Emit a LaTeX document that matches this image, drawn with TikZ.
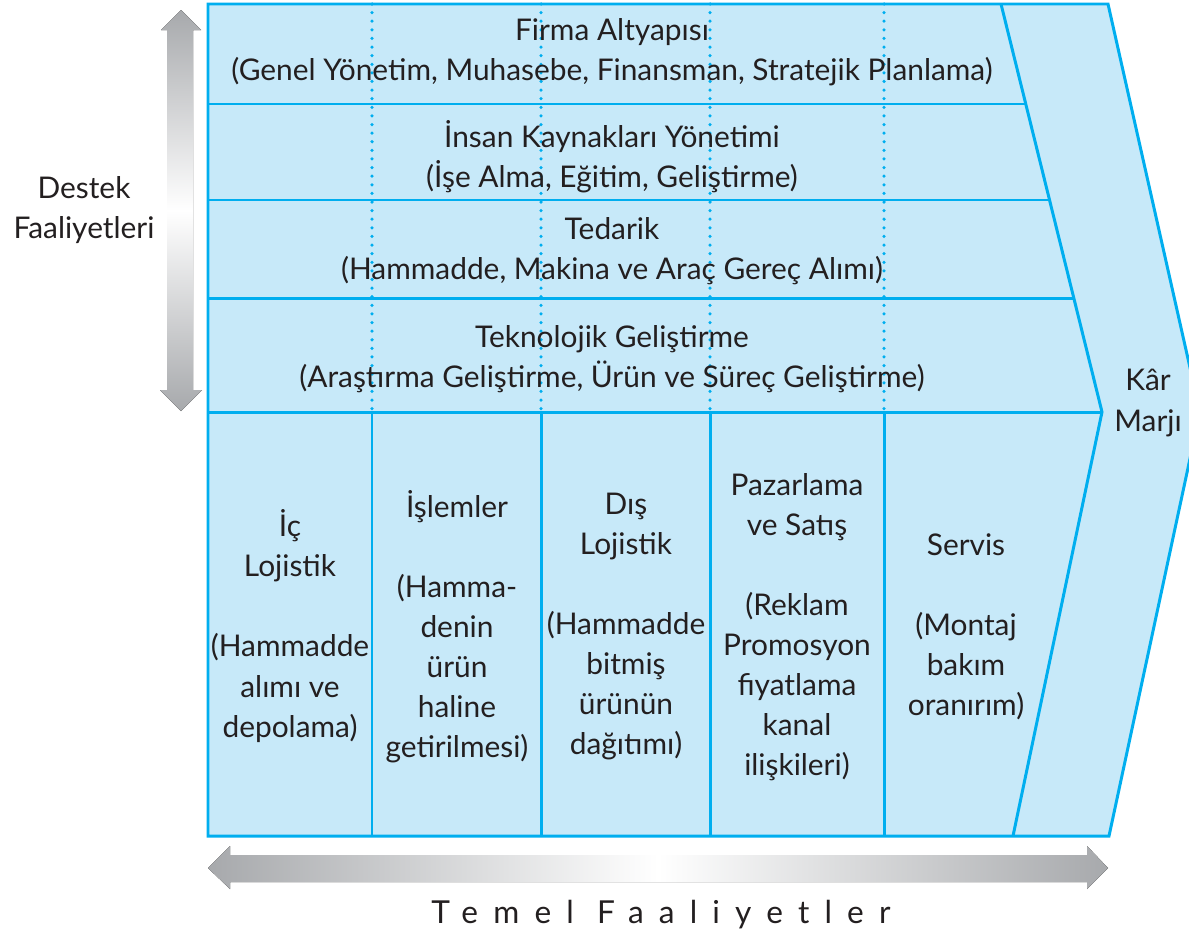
\documentclass[tikz,border=0pt]{standalone}
\usepackage{fontspec}
\setmainfont{Lato}
\usetikzlibrary{calc}
\definecolor{chainfill}{HTML}{C7E9F9}
\definecolor{chainline}{HTML}{00AEEF}
\definecolor{chaintext}{HTML}{231F20}
\definecolor{chaingray}{HTML}{A7A9AC}

\begin{document}
\begin{tikzpicture}[x=0.02cm, y=-0.02cm, font=\fontsize{17}{22.8}\selectfont, text=chaintext,
    blueline/.style={draw=chainline, line width=1.7pt},
    dotline/.style={draw=chainline, line width=2pt, line cap=round, dash pattern=on 0pt off 4.9pt},
    lbl/.style={align=center, inner sep=0pt}]
    \useasboundingbox (0,0) rectangle (1189,940);

    % outer shape and profit margin
    \filldraw[blueline, fill=chainfill] (208,4) -- (1108,4) -- (1200,412) -- (1109,836) -- (208,836) -- cycle;
    \draw[blueline] (1001,4) -- (1102,412) -- (1013,836);

    % support rows
    \draw[blueline] (208,104) -- (1025.7,104);
    \draw[blueline] (208,200) -- (1049.5,200);
    \draw[blueline] (208,298) -- (1073.8,298);
    \draw[blueline] (208,412) -- (1102,412);

    % primary columns
    \foreach \x in {372,541,710,884} {
        \draw[dotline] (\x,4) -- (\x,412);
        \draw[blueline] (\x,412) -- (\x,836);
    }

    % gray arrows
    \fill[top color=chaingray, bottom color=chaingray, middle color=white]
        (181,10) -- (201,30) -- (193,30) -- (193,390) -- (202,390) -- (181,411)
        -- (160,390) -- (167,390) -- (167,30) -- (161,30) -- cycle;
    \fill[left color=chaingray, right color=chaingray, middle color=white]
        (208,868) -- (230,846) -- (230,855) -- (1087,855) -- (1087,846) -- (1108,868)
        -- (1087,889) -- (1087,882) -- (230,882) -- (230,889) -- cycle;

    % support activities
    \node[lbl] (firma) at (612,52) {Firma Altyapısı\\(Genel Yönetim, Muhasebe, Finansman, Stratejik Planlama)};
    \node[lbl] (insan) at (612,156.5) {İnsan Kaynakları Yönetimi\\(İşe Alma, Eğitim, Geliştirme)};
    \node[lbl] (tedarik) at (612,251) {Tedarik\\(Hammadde, Makina ve Araç Gereç Alımı)};
    \node[lbl] (teknoloji) at (612,359.5) {Teknolojik Geliştirme\\(Araştırma Geliştirme, Ürün ve Süreç Geliştirme)};

    % primary activities
    \node[lbl] (ic) at (290,626) {İç\\Lojistik\\[22.8pt](Hammadde\\alımı ve\\depolama)};
    \node[lbl] (islemler) at (457,626.5) {İşlemler\\[22.8pt](Hamma-\\denin\\ürün\\haline\\getirilmesi)};
    \node[lbl] (dis) at (626,626.5) {Dış\\Lojistik\\[22.8pt](Hammadde\\bitmiş\\ürünün\\dağıtımı)};
    \node[lbl] (pazar) at (797,627) {Pazarlama\\ve Satış\\[22.8pt](Reklam\\Promosyon\\fiyatlama\\kanal\\ilişkileri)};
    \node[lbl] (servis) at (966,626.5) {Servis\\[22.8pt](Montaj\\bakım\\oranırım)};
    \node[lbl] (kar) at (1148,403) {Kâr\\Marjı};

    % axis labels
    \node[lbl] (destek) at (84,210) {Destek\\Faaliyetleri};
    \node[lbl, font=\fontsize{18}{22.8}\selectfont\addfontfeature{LetterSpace=48}] (temel) at (661,915) {Temel Faaliyetler};
\end{tikzpicture}
\end{document}
